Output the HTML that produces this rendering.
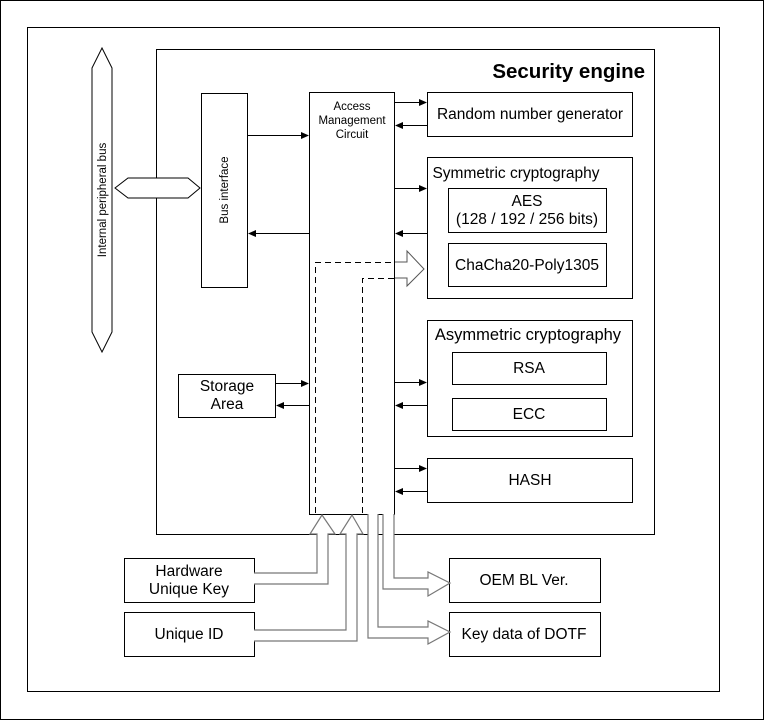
<!DOCTYPE html>
<html><head><style>body{margin:0;background:#fff}svg{display:block}text{font-family:"Liberation Sans",sans-serif;fill:#000}</style></head><body>
<svg width="764" height="720" viewBox="0 0 764 720" xmlns="http://www.w3.org/2000/svg">
<defs><marker id="a" markerWidth="8" markerHeight="8" refX="7" refY="4" orient="auto" markerUnits="userSpaceOnUse"><path d="M0,0.5 L8,4 L0,7.5 Z" fill="#000"/></marker></defs>
<rect x="0.5" y="0.5" width="763" height="719" fill="#fff" stroke="#000"/>
<rect x="27.5" y="27.5" width="692" height="664" fill="none" stroke="#000"/>
<rect x="156.5" y="49.5" width="498" height="485" fill="none" stroke="#000"/>
<text x="645" y="78" text-anchor="end" font-size="20.5" font-weight="bold">Security engine</text>
<path d="M102,48 L112,68 L112,332 L102,352 L92,332 L92,68 Z" fill="#fff" stroke="#000"/>
<text transform="translate(106,200) rotate(-90)" text-anchor="middle" font-size="11.5">Internal peripheral bus</text>
<path d="M115,188 L128,178 L188,178 L200,188 L188,198 L128,198 Z" fill="#fff" stroke="#000"/>
<rect x="201.5" y="93.5" width="46" height="194" fill="#fff" stroke="#000"/>
<text transform="translate(228,190) rotate(-90)" text-anchor="middle" font-size="11.5">Bus interface</text>
<rect x="309.5" y="92.5" width="85" height="422" fill="#fff" stroke="#000"/>
<text x="352" y="110" text-anchor="middle" font-size="11.5">Access</text>
<text x="352" y="124" text-anchor="middle" font-size="11.5">Management</text>
<text x="352" y="138" text-anchor="middle" font-size="11.5">Circuit</text>
<g fill="none" stroke="#000">
<rect x="427.5" y="92.5" width="205" height="44"/>
<rect x="427.5" y="157.5" width="205" height="141"/>
<rect x="448.5" y="188.5" width="158" height="44"/>
<rect x="448.5" y="243.5" width="158" height="43"/>
<rect x="427.5" y="320.5" width="205" height="116"/>
<rect x="452.5" y="352.5" width="154" height="32"/>
<rect x="452.5" y="398.5" width="154" height="32"/>
<rect x="427.5" y="458.5" width="205" height="44"/>
<rect x="178.5" y="374.5" width="97" height="43"/>
<rect x="124.5" y="558.5" width="130" height="44"/>
<rect x="124.5" y="612.5" width="130" height="44"/>
<rect x="449.5" y="558.5" width="151" height="44"/>
<rect x="449.5" y="612.5" width="151" height="44"/>
</g>
<g font-size="15.5" text-anchor="middle">
<text x="530" y="119">Random number generator</text>
<text x="516" y="178">Symmetric cryptography</text>
<text x="527" y="206">AES</text>
<text x="527" y="224">(128 / 192 / 256 bits)</text>
<text x="527" y="270">ChaCha20-Poly1305</text>
<text x="528" y="340" font-size="16.5">Asymmetric cryptography</text>
<text x="529" y="373">RSA</text>
<text x="529" y="419">ECC</text>
<text x="530" y="485">HASH</text>
<text x="227" y="391">Storage</text>
<text x="227" y="409">Area</text>
<text x="189" y="576">Hardware</text>
<text x="189" y="594">Unique Key</text>
<text x="189" y="639">Unique ID</text>
<text x="524" y="585">OEM BL Ver.</text>
<text x="524" y="639">Key data of DOTF</text>
</g>
<g stroke="#000" stroke-width="1" marker-end="url(#a)">
<line x1="395" y1="102.5" x2="426" y2="102.5"/>
<line x1="427" y1="125.5" x2="396" y2="125.5"/>
<line x1="248" y1="135.5" x2="308" y2="135.5"/>
<line x1="309" y1="233.5" x2="249" y2="233.5"/>
<line x1="395" y1="188.5" x2="426" y2="188.5"/>
<line x1="427" y1="233.5" x2="396" y2="233.5"/>
<line x1="395" y1="382.5" x2="426" y2="382.5"/>
<line x1="427" y1="405.5" x2="396" y2="405.5"/>
<line x1="395" y1="468.5" x2="426" y2="468.5"/>
<line x1="427" y1="491.5" x2="396" y2="491.5"/>
<line x1="276" y1="383.5" x2="308" y2="383.5"/>
<line x1="309" y1="405.5" x2="277" y2="405.5"/>
</g>
<g fill="none" stroke="#000" stroke-dasharray="6,4">
<path d="M315.5,513 L315.5,262.5 L395,262.5"/>
<path d="M362.5,513 L362.5,278.5 L395,278.5"/>
</g>
<path d="M395,262 L407,262 L407,251 L424,269 L407,286 L407,278 L395,278" fill="#fff" stroke="#555"/>
<g fill="#fff" stroke="#777" stroke-width="1.2">
<path d="M254,573 L317,573 L317,534 L310,534 L322,515 L335,534 L328,534 L328,584 L254,584"/>
<path d="M254,630 L346,630 L346,534 L340,534 L352,515 L363,534 L357,534 L357,641 L254,641"/>
<path d="M394,514 L394,578 L428,578 L428,572 L450,583 L428,596 L428,589 L383,589 L383,514"/>
<path d="M378,514 L378,627 L428,627 L428,621 L450,632 L428,644 L428,638 L368,638 L368,514"/>
</g>
</svg>
</body></html>
